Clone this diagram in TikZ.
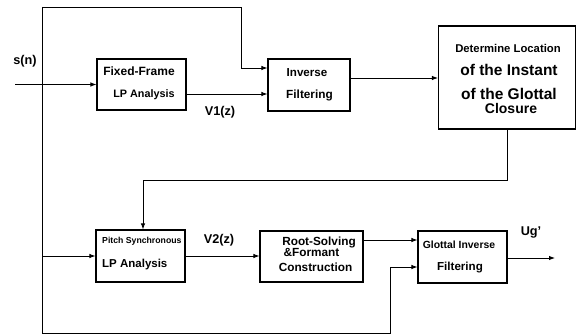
\documentclass[tikz,border=0pt]{standalone}
\usepackage{fontspec}
\setmainfont{Liberation Sans}
\usetikzlibrary{arrows.meta}
\newcommand\fsz[1]{\fontsize{#1}{#1}\selectfont\bfseries}
\begin{document}
\begin{tikzpicture}[x=1pt,y=-1pt,
  blk/.style={draw,line width=1.1pt,minimum width=#1,inner sep=0pt},
  txt/.style={inner sep=0pt,text height=0.72em,text depth=0.2em},
  tight/.style={inner sep=0pt,text height=0.7em,text depth=0.05em},
  wire/.style={line width=0.9pt},
  arr/.style={wire,-{Latex[length=6pt,width=4.5pt]}}]
\useasboundingbox (0,0) rectangle (578,334);
% boxes
\node[blk=89pt,minimum height=51pt] (ff) at (141.5,84.5) {};
\node[blk=82pt,minimum height=52pt] (inv) at (309,85) {};
\node[blk=137pt,minimum height=103pt] (det) at (507,77.5) {};
\node[blk=89pt,minimum height=52pt] (pitch) at (140.5,256) {};
\node[blk=103pt,minimum height=51pt] (root) at (311.5,256.5) {};
\node[blk=89pt,minimum height=52pt] (glot) at (462.5,257) {};
% texts
\node[txt] (t1) at (139,73) {\fsz{12}Fixed-Frame};
\node[txt] (t2) at (144,95) {\fsz{10.8}LP Analysis};
\node[txt] (t3) at (307,74) {\fsz{11.6}Inverse};
\node[txt] (t4) at (309.5,96) {\fsz{11.8}Filtering};
\node[txt] (t5) at (508,50) {\fsz{11.3}Determine Location};
\node[txt] (t6) at (509,73) {\fsz{15.5}of the Instant};
\node[txt] (t7) at (509,97) {\fsz{15.5}of the Glottal};
\node[txt] (t8) at (511,111) {\fsz{14}Closure};
\node[txt,anchor=west] (t9) at (102,241) {\fsz{8.7}Pitch Synchronous};
\node[txt,anchor=west] (t10) at (102,265) {\fsz{11.5}LP Analysis};
\node[tight] (t11) at (319,242) {\fsz{11.8}Root-Solving};
\node[tight] (t12) at (311.5,253.5) {\fsz{11.8}\&Formant};
\node[txt] (t13) at (315.5,269) {\fsz{11.8}Construction};
\node[txt] (t14) at (459,246) {\fsz{10.4}Glottal Inverse};
\node[txt] (t15) at (460,268) {\fsz{11.6}Filtering};
% signal labels
\node[txt] (sn) at (25,62) {\fsz{12.7}s(n)};
\node[txt] (v1) at (220,113) {\fsz{12.7}V1(z)};
\node[txt] (v2) at (219,241) {\fsz{12.7}V2(z)};
\node[txt] (ug) at (531,233) {\fsz{12.7}Ug'};
% coordinates
\coordinate (in) at (15,84.5);
\coordinate (jt) at (42,7);
\coordinate (jb) at (42,333);
\coordinate (jp) at (42,256);
\coordinate (tr) at (241,7);
\coordinate (y68) at (241,68);
\coordinate (y94) at (0,94);
\coordinate (y78) at (0,78);
\coordinate (fb) at (143,180);
\coordinate (y240) at (0,240);
\coordinate (br) at (390,333);
\coordinate (y267) at (390,267);
\coordinate (out) at (555,258);
% connectors
\draw[arr] (in) -- (ff.west);
\draw[wire] (jt) -- (jb);
\draw[arr] (jt) -- (tr) -- (y68) -- (inv.west |- y68);
\draw[arr] (ff.east |- y94) -- (inv.west |- y94);
\draw[arr] (inv.east |- y78) -- (det.west |- y78);
\draw[arr] (det.south) -- (det.south |- fb) -- (fb) -- (fb |- pitch.north);
\draw[arr] (jp) -- (pitch.west);
\draw[arr] (pitch.east) -- (root.west |- pitch.east);
\draw[arr] (root.east |- y240) -- (glot.west |- y240);
\draw[arr] (jb) -- (br) -- (y267) -- (glot.west |- y267);
\draw[arr] (glot.east |- out) -- (out);
\end{tikzpicture}
\end{document}
